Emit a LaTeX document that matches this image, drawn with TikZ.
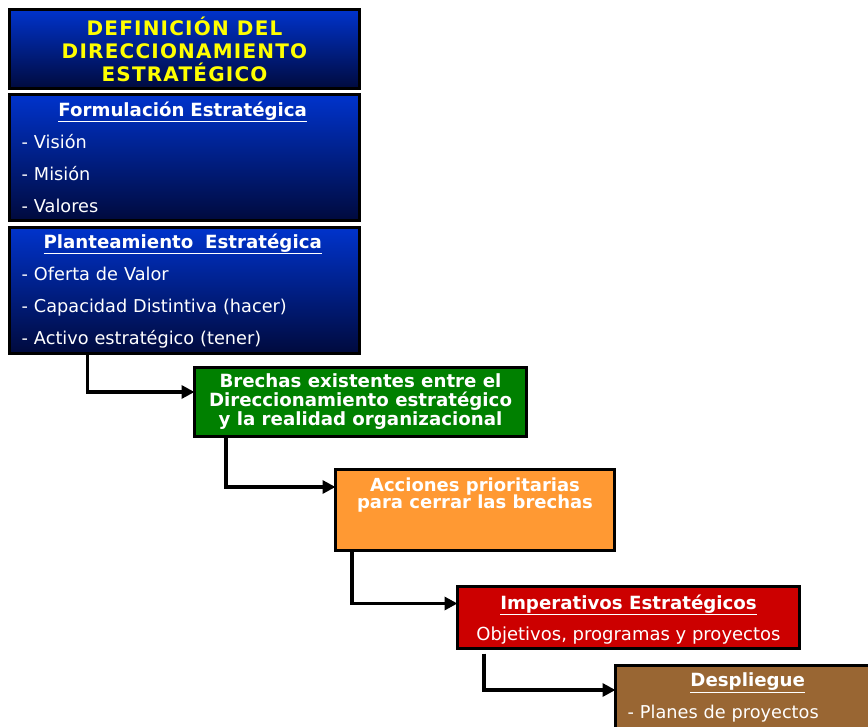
\documentclass[tikz,border=0pt]{standalone}
\usepackage{fontspec}
\setmainfont{DejaVu Sans}
\usetikzlibrary{positioning,arrows.meta}

\definecolor{azularriba}{HTML}{0033CC}
\definecolor{azulabajo}{HTML}{000A3D}
\definecolor{amarillo}{HTML}{FFFF00}
\definecolor{verde}{HTML}{008000}
\definecolor{naranja}{HTML}{FF9933}
\definecolor{rojo}{HTML}{CC0000}
\definecolor{cafe}{HTML}{996633}

\newcommand{\encabezadoFont}{\fontsize{18.2}{32}\selectfont\bfseries}

\begin{document}
\begin{tikzpicture}[x=1pt,y=-1pt,
    caja/.style={draw=black, line width=3pt, anchor=north west, inner sep=0pt, outer sep=0pt},
    cajaazul/.style={caja, top color=azularriba, bottom color=azulabajo},
    lista/.style={text=white, inner sep=0pt, align=left, font=\fontsize{17.7}{32}\selectfont},
    flecha/.style={line width=3.5pt, -{Triangle[length=13pt,width=13pt]}}
]
    \useasboundingbox (0,0) rectangle (868,727);
    \clip (0,0) rectangle (868,727);

    % bloque de direccionamiento
    \node[cajaazul, minimum width=350pt, minimum height=79.5pt, text=amarillo, align=center,
          font=\fontsize{20}{23}\selectfont\bfseries\addfontfeatures{LetterSpace=6}] (titulo) at (9.5,9.5)
          {DEFINICIÓN DEL\\DIRECCIONAMIENTO\\ESTRATÉGICO};
    \node[cajaazul, minimum width=350pt, minimum height=126pt] (formul) at (9.5,94.5) {};
    \node[lista, text width=322pt, below right=7pt and 12pt of formul.north west]
          {\makebox[\linewidth][c]{\encabezadoFont\underline{Formulación Estratégica}}\\
           - Visión\\ - Misión\\ - Valores};
    \node[cajaazul, minimum width=350pt, minimum height=126pt] (plant) at (9.5,227.5) {};
    \node[lista, text width=322pt, below right=6pt and 12pt of plant.north west]
          {\makebox[\linewidth][c]{\encabezadoFont\underline{Planteamiento\ \ Estratégica}}\\
           - Oferta de Valor\\ - Capacidad Distintiva (hacer)\\ - Activo estratégico (tener)};

    % escalera de pasos
    \node[caja, fill=verde, minimum width=332pt, minimum height=69pt, text=white, align=center,
          font=\fontsize{18.2}{19}\selectfont\bfseries] (brechas) at (194.5,367.5)
          {Brechas existentes entre el\\Direccionamiento estratégico\\y la realidad organizacional};
    \node[caja, fill=naranja, minimum width=279pt, minimum height=81pt] (acciones) at (335.5,469.5) {};
    \node[text=white, align=center, inner sep=0pt, font=\fontsize{18}{17.5}\selectfont\bfseries,
          below=8pt of acciones.north] {Acciones prioritarias\\para cerrar las brechas};
    \node[caja, fill=rojo, minimum width=342pt, minimum height=62pt] (imper) at (457.5,586.5) {};
    \node[text=white, align=center, inner sep=0pt, font=\fontsize{18}{31}\selectfont,
          below=8pt of imper.north] {\encabezadoFont\underline{Imperativos Estratégicos}\\Objetivos, programas y proyectos};
    \node[caja, fill=cafe, minimum width=264pt, minimum height=90pt] (desp) at (615.5,665.5) {};
    \node[lista, text width=240pt, below right=7pt and 12pt of desp.north west]
          {\makebox[\linewidth][c]{\encabezadoFont\underline{Despliegue}}\\
           - Planes de proyectos};

    % conectores
    \draw[flecha] ([xshift=78pt]plant.south west) |- ([yshift=10pt]brechas.west);
    \draw[flecha] ([xshift=31.5pt]brechas.south west) |- ([yshift=23pt]acciones.west);
    \draw[flecha] ([xshift=16.5pt]acciones.south west) |- ([yshift=14pt]imper.west);
    \draw[flecha] ([xshift=26.5pt,yshift=-5pt]imper.south west) |- ([yshift=-24.5pt]desp.north west);
\end{tikzpicture}
\end{document}
